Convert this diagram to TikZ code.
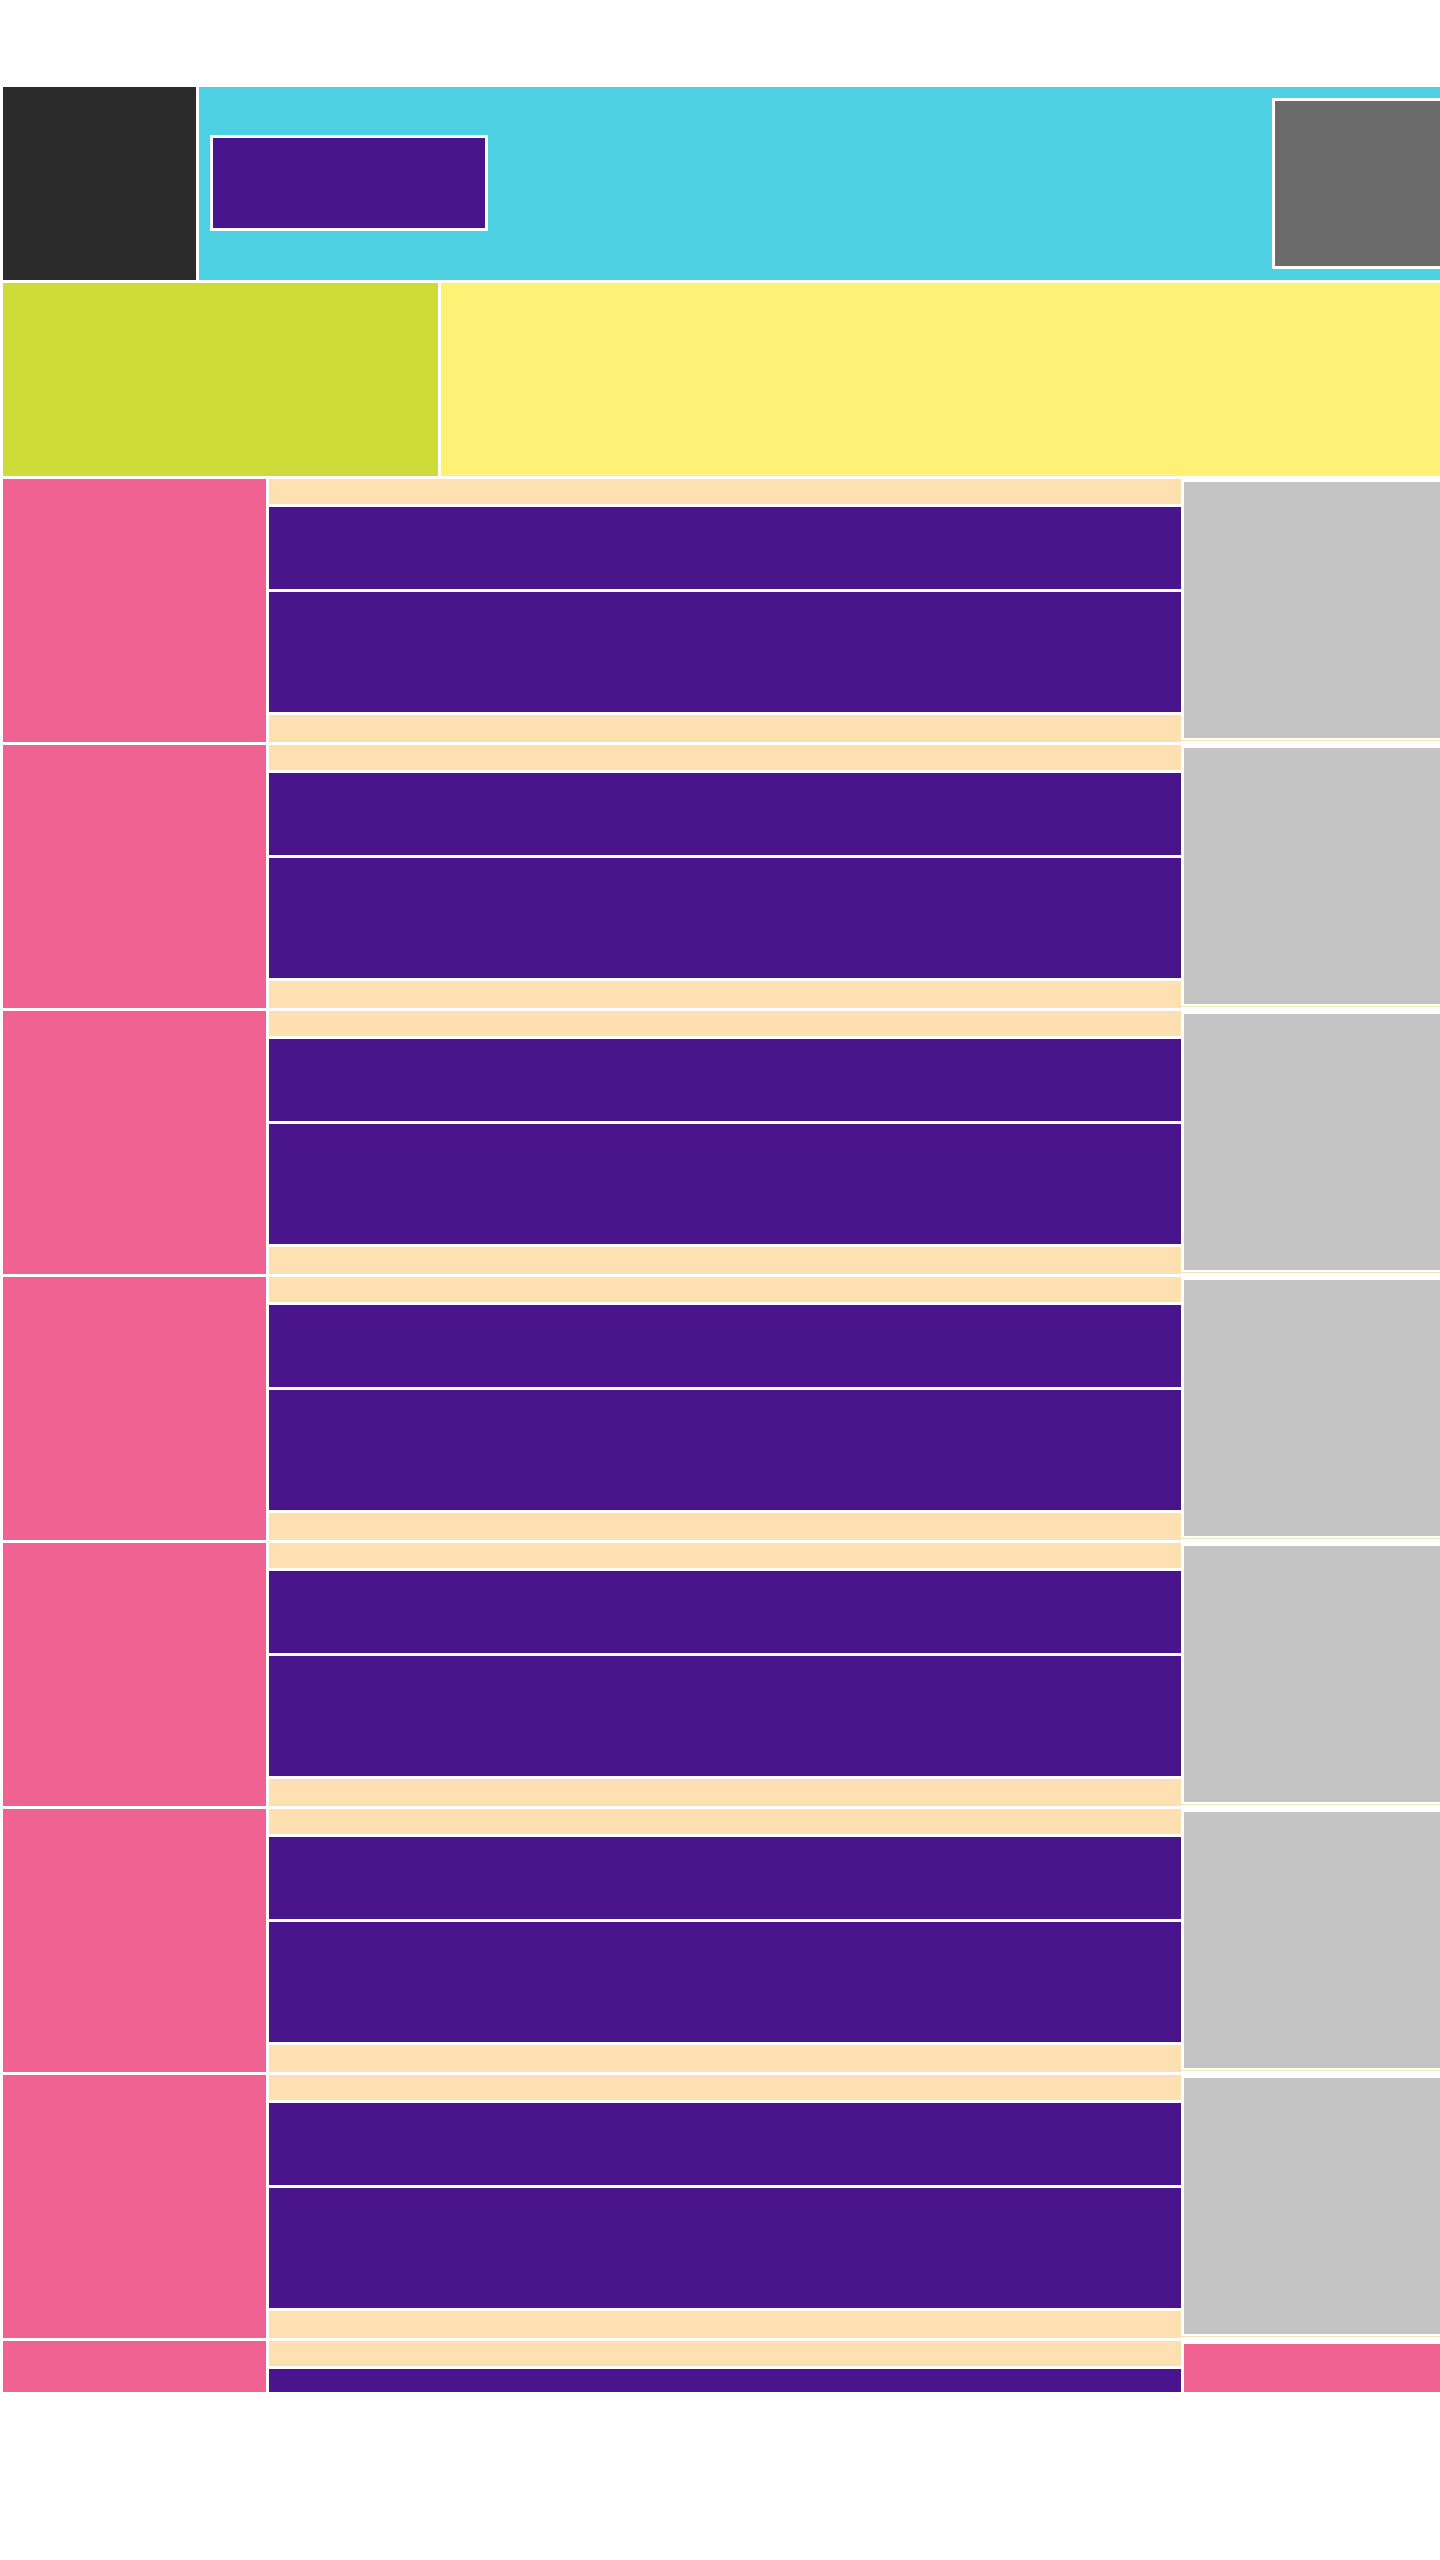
\documentclass[tikz,border=0pt]{standalone}
\definecolor{scuro}{HTML}{2B2B2B}
\definecolor{ciano}{HTML}{4DD0E1}
\definecolor{viola}{HTML}{4A148C}
\definecolor{grigioscuro}{HTML}{6B6B6B}
\definecolor{verdelime}{HTML}{CDDC39}
\definecolor{giallo}{HTML}{FFF176}
\definecolor{rosa}{HTML}{F06292}
\definecolor{pesca}{HTML}{FFE0B2}
\definecolor{grigio}{HTML}{C4C4C4}
\definecolor{lineapesca}{HTML}{F5E3BC}
\begin{document}
\begin{tikzpicture}[x=0.1mm, y=-0.1mm,
        cornice/.style={fill=white},
        fascia/.style={fill=pesca},
        barra/.style={fill=viola}]
        \useasboundingbox (0,0) rectangle (1440,2560);
        \fill[white] (0,0) rectangle (1440,2560);

        % Intestazione
        \fill[scuro] (3,87) rectangle (196,280);
        \fill[ciano] (199,87) rectangle (1440,280);
        \fill[cornice] (210,135) rectangle (488,231);
        \fill[barra] (213,138) rectangle (485,228);
        \fill[cornice] (1272,98) rectangle (1440,269);
        \fill[grigioscuro] (1275,101) rectangle (1440,266);

        % Seconda fascia
        \fill[verdelime] (3,283) rectangle (438,476);
        \fill[giallo] (441,283) rectangle (1440,476);

        % Righe ripetute
        \foreach \r in {479,745,...,2075} {
            \fill[rosa] (3,\r) rectangle (266,\r+263);
            \fill[fascia] (269,\r) rectangle (1181,\r+25);
            \fill[barra] (269,\r+28) rectangle (1181,\r+110);
            \fill[barra] (269,\r+113) rectangle (1181,\r+233);
            \fill[fascia] (269,\r+236) rectangle (1181,\r+263);
            \fill[grigio] (1184,\r+3) rectangle (1440,\r+259);
            \draw[lineapesca, line width=0.12mm] (1181,\r+261.5) -- (1440,\r+261.5);
        }

        % Ultima riga, tagliata
        \fill[rosa] (3,2341) rectangle (266,2392);
        \fill[fascia] (269,2341) rectangle (1181,2366);
        \fill[barra] (269,2369) rectangle (1181,2392);
        \fill[rosa] (1184,2344) rectangle (1440,2392);
    \end{tikzpicture}
\end{document}
